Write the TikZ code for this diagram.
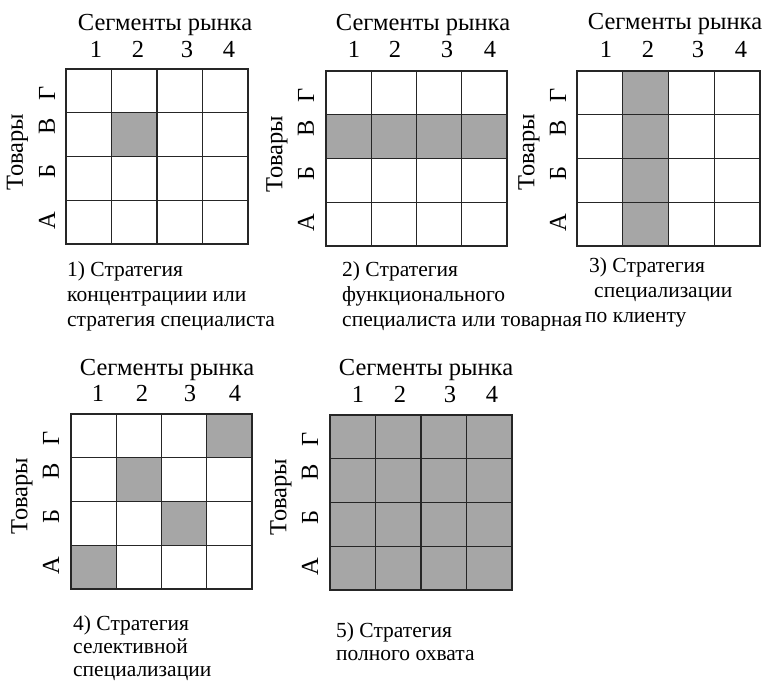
\documentclass[tikz,border=0pt]{standalone}
\usepackage{fontspec}
\setmainfont{Liberation Serif}
\definecolor{cellgray}{RGB}{166,166,166}
\newcommand\drawgrid[4]{%
  \draw[cellgrid] (#1,#2) rectangle (#3,#4);
  \foreach \i in {1,2,3}{%
    \draw[cellgrid] ({#1+\i*(#3-#1)/4},#2) -- ({#1+\i*(#3-#1)/4},#4);
    \draw[cellgrid] (#1,{#2+\i*(#4-#2)/4}) -- (#3,{#2+\i*(#4-#2)/4});
  }}
% \cellfill{x0}{y0}{x1}{y1}{col}{row}
\newcommand\cellfill[6]{%
  \fill[cellgray] ({#1+(#5-1)*(#3-#1)/4},{#2+(#6-1)*(#4-#2)/4}) rectangle ({#1+#5*(#3-#1)/4},{#2+#6*(#4-#2)/4});}
\begin{document}
\begin{tikzpicture}[x=1pt,y=-1pt,
  cellgrid/.style={line width=1.1pt, draw=black!85},
  ttl/.style={font=\fontsize{24.5}{24.5}\selectfont, anchor=base, inner sep=0},
  num/.style={font=\fontsize{24.5}{24.5}\selectfont, anchor=base, inner sep=0},
  rowlab/.style={font=\fontsize{24.5}{24.5}\selectfont, rotate=90, inner sep=0},
  captxt/.style={font=\fontsize{21.5}{25}\selectfont, align=left, anchor=base west, inner sep=0},
  captxtb/.style={font=\fontsize{21.5}{23}\selectfont, align=left, anchor=base west, inner sep=0},
]
\useasboundingbox (0,0) rectangle (763,682);
\fill[white] (0,0) rectangle (763,682);

% ---------- grid 1 ----------
\cellfill{66}{69}{248}{244}{2}{2}
\drawgrid{66}{69}{248}{244}
\node[ttl] (t1) at (165,31) {Сегменты рынка};
\node[num] (a1n1) at (96,57.5) {1};
\node[num] (a1n2) at (138,57.5) {2};
\node[num] (a1n3) at (187,57.5) {3};
\node[num] (a1n4) at (229,57.5) {4};
\node[rowlab] (a1g) at (47,93) {Г};
\node[rowlab] (a1v) at (47,126) {В};
\node[rowlab] (a1b) at (47,171) {Б};
\node[rowlab] (a1a) at (47,221) {А};
\node[rowlab] (a1t) at (17.5,152) {Товары};
\node[captxt] (c1) at (67,326) {1) Стратегия\\концентрациии или\\стратегия специалиста};

% ---------- grid 2 ----------
\foreach \c in {1,2,3,4}{\cellfill{326}{71}{507}{246}{\c}{2}}
\drawgrid{326}{71}{507}{246}
\node[ttl] (t2) at (423,31) {Сегменты рынка};
\node[num] (a2n1) at (354,58) {1};
\node[num] (a2n2) at (395,58) {2};
\node[num] (a2n3) at (447,58) {3};
\node[num] (a2n4) at (490,58) {4};
\node[rowlab] (a2g) at (306,95) {Г};
\node[rowlab] (a2v) at (306,128) {В};
\node[rowlab] (a2b) at (306,173) {Б};
\node[rowlab] (a2a) at (306,223) {А};
\node[rowlab] (a2t) at (277,154) {Товары};
\node[captxt] (c2) at (342,326) {2) Стратегия\\функционального\\специалиста или товарная};

% ---------- grid 3 ----------
\foreach \r in {1,2,3,4}{\cellfill{577}{71}{760}{246}{2}{\r}}
\drawgrid{577}{71}{760}{246}
\node[ttl] (t3) at (675,30) {Сегменты рынка};
\node[num] (a3n1) at (606,58) {1};
\node[num] (a3n2) at (648,58) {2};
\node[num] (a3n3) at (698,58) {3};
\node[num] (a3n4) at (741,58) {4};
\node[rowlab] (a3g) at (558,95) {Г};
\node[rowlab] (a3v) at (558,128) {В};
\node[rowlab] (a3b) at (558,173) {Б};
\node[rowlab] (a3a) at (558,223) {А};
\node[rowlab] (a3t) at (529,152) {Товары};
\node[captxt] (c3) at (585,322) {\hspace*{4pt}3) Стратегия\\\hspace*{9pt}специализации\\по клиенту};

% ---------- grid 4 ----------
\cellfill{71}{414}{252}{589}{4}{1}
\cellfill{71}{414}{252}{589}{2}{2}
\cellfill{71}{414}{252}{589}{3}{3}
\cellfill{71}{414}{252}{589}{1}{4}
\drawgrid{71}{414}{252}{589}
\node[ttl] (t4) at (167,375) {Сегменты рынка};
\node[num] (a4n1) at (98,401) {1};
\node[num] (a4n2) at (142,401) {2};
\node[num] (a4n3) at (190,401) {3};
\node[num] (a4n4) at (235,401) {4};
\node[rowlab] (a4g) at (51,438) {Г};
\node[rowlab] (a4v) at (51,471) {В};
\node[rowlab] (a4b) at (51,516) {Б};
\node[rowlab] (a4a) at (51,566) {А};
\node[rowlab] (a4t) at (22,496) {Товары};
\node[captxtb] (c4) at (73,676) {4) Стратегия\\селективной\\специализации};

% ---------- grid 5 ----------
\foreach \c in {1,2,3,4}{\foreach \r in {1,2,3,4}{\cellfill{330}{415}{512}{590}{\c}{\r}}}
\drawgrid{330}{415}{512}{590}
\node[ttl] (t5) at (426,375) {Сегменты рынка};
\node[num] (a5n1) at (358,402) {1};
\node[num] (a5n2) at (400,402) {2};
\node[num] (a5n3) at (450,402) {3};
\node[num] (a5n4) at (492,402) {4};
\node[rowlab] (a5g) at (310,439) {Г};
\node[rowlab] (a5v) at (310,472) {В};
\node[rowlab] (a5b) at (310,517) {Б};
\node[rowlab] (a5a) at (310,567) {А};
\node[rowlab] (a5t) at (281,497) {Товары};
\node[captxtb] (c5) at (336,660) {5) Стратегия\\полного охвата};
\end{tikzpicture}
\end{document}
